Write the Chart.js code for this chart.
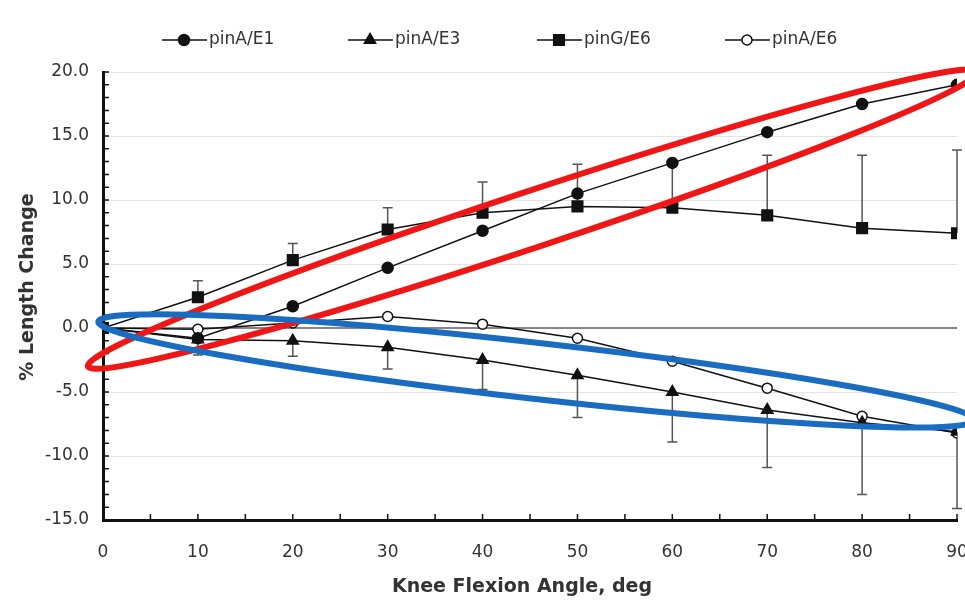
<!DOCTYPE html>
<html>
<head>
<meta charset="utf-8">
<script src="https://cdn.jsdelivr.net/npm/chart.js@4.4.0/dist/chart.umd.min.js"></script>
<style>
  html, body { margin: 0; padding: 0; background: #fff; overflow: hidden; }
  #wrap { width: 965px; height: 600px; overflow: hidden; }
</style>
</head>
<body>
<div id="wrap"><canvas id="chart" width="990" height="600"></canvas></div>
<script>
// knee flexion angle (deg)
const angles = [0, 10, 20, 30, 40, 50, 60, 70, 80, 90];

// % length change per graft position
const pinA_E1 = [0, -0.8, 1.7, 4.7, 7.6, 10.5, 12.9, 15.3, 17.5, 19.0];
const pinA_E3 = [0, -0.9, -1.0, -1.5, -2.5, -3.7, -5.0, -6.4, -7.4, -8.1];
const pinG_E6 = [0, 2.4, 5.3, 7.7, 9.0, 9.5, 9.4, 8.8, 7.8, 7.4];
const pinA_E6 = [0, -0.1, 0.4, 0.9, 0.3, -0.8, -2.6, -4.7, -6.9, -8.2];

// standard deviations (one-sided bars)
const pinG_E6_sd = [0, 1.3, 1.3, 1.7, 2.4, 3.3, 3.4, 4.7, 5.7, 6.5];
const pinA_E3_sd = [0, 1.2, 1.2, 1.7, 2.3, 3.3, 3.9, 4.5, 5.6, 6.0];

const xTicks = [0, 10, 20, 30, 40, 50, 60, 70, 80, 90];
const yTicks = [-15, -10, -5, 0, 5, 10, 15, 20];

// hand-drawn highlight rings, ends given in data units
const rings = [
    { from: [-1.6, -3.0], to: [92.1, 20.0], color: '#f01616' },
    { from: [-0.5, 0.5], to: [91.8, -7.2], color: '#1a6cc0' }
];

const FONT = '"DejaVu Sans", Arial, sans-serif';

function pts(vals) {
    return angles.map((a, i) => ({ x: a, y: vals[i] }));
}

function serie(label, vals, style, radius, fill) {
    return {
        label,
        data: pts(vals),
        borderColor: '#111',
        borderWidth: 1.5,
        pointStyle: style,
        pointRadius: radius,
        pointBackgroundColor: fill,
        pointBorderColor: '#111',
        pointBorderWidth: 1.5,
        tension: 0
    };
}

const errorBars = {
    id: 'errorBars',
    beforeDatasetsDraw(chart) {
        const { ctx, scales: { x, y } } = chart;
        const bars = [[pinG_E6, pinG_E6_sd, 1], [pinA_E3, pinA_E3_sd, -1]];
        ctx.save();
        ctx.strokeStyle = '#555';
        ctx.lineWidth = 1.5;
        bars.forEach(([vals, sd, dir]) => {
            angles.forEach((a, i) => {
                if (!sd[i]) return;
                const px = x.getPixelForValue(a);
                const p0 = y.getPixelForValue(vals[i]);
                const p1 = y.getPixelForValue(vals[i] + dir * sd[i]);
                ctx.beginPath();
                ctx.moveTo(px, p0);
                ctx.lineTo(px, p1);
                ctx.moveTo(px - 5, p1);
                ctx.lineTo(px + 5, p1);
                ctx.stroke();
            });
        });
        ctx.restore();
    }
};

const inTicks = {
    id: 'inTicks',
    afterDraw(chart) {
        const { ctx, scales: { x, y }, chartArea } = chart;
        ctx.save();
        ctx.strokeStyle = '#111';
        ctx.lineWidth = 1.5;
        ctx.beginPath();
        for (let v = -15; v <= 20; v++) {
            const py = y.getPixelForValue(v);
            ctx.moveTo(chartArea.left, py);
            ctx.lineTo(chartArea.left + 6, py);
        }
        for (let v = 0; v <= 90; v += 5) {
            const px = x.getPixelForValue(v);
            ctx.moveTo(px, chartArea.bottom);
            ctx.lineTo(px, chartArea.bottom - 6);
        }
        ctx.stroke();
        ctx.restore();
    }
};

function marker(ctx, ds, cx, cy) {
    const r = ds.pointRadius;
    ctx.fillStyle = ds.pointBackgroundColor;
    ctx.strokeStyle = '#111';
    ctx.lineWidth = 1.5;
    ctx.beginPath();
    if (ds.pointStyle === 'rect') {
        const s = r * Math.SQRT1_2;
        ctx.rect(cx - s, cy - s, 2 * s, 2 * s);
    } else if (ds.pointStyle === 'triangle') {
        ctx.moveTo(cx, cy - r);
        ctx.lineTo(cx + r * 0.87, cy + r * 0.5);
        ctx.lineTo(cx - r * 0.87, cy + r * 0.5);
        ctx.closePath();
    } else {
        ctx.arc(cx, cy, r, 0, Math.PI * 2);
    }
    ctx.fill();
    ctx.stroke();
}

const lineLegend = {
    id: 'lineLegend',
    afterDraw(chart) {
        const ctx = chart.ctx;
        const starts = [162, 348, 537, 725];
        const yy = 40;
        ctx.save();
        chart.data.datasets.forEach((ds, i) => {
            const x0 = starts[i];
            ctx.strokeStyle = '#111';
            ctx.lineWidth = 1.5;
            ctx.beginPath();
            ctx.moveTo(x0, yy);
            ctx.lineTo(x0 + 45, yy);
            ctx.stroke();
            marker(ctx, ds, x0 + 22, yy);
            ctx.fillStyle = '#333';
            ctx.font = '17px ' + FONT;
            ctx.textAlign = 'left';
            ctx.textBaseline = 'middle';
            ctx.fillText(ds.label, x0 + 47, yy);
        });
        ctx.restore();
    }
};

const axisTitles = {
    id: 'axisTitles',
    afterDraw(chart) {
        const ctx = chart.ctx;
        ctx.save();
        ctx.fillStyle = '#333';
        ctx.font = 'bold 19px ' + FONT;
        ctx.textAlign = 'center';
        ctx.textBaseline = 'middle';
        ctx.fillText('Knee Flexion Angle, deg', 522, 587);
        ctx.translate(28, 287);
        ctx.rotate(-Math.PI / 2);
        ctx.fillText('% Length Change', 0, 0);
        ctx.restore();
    }
};

const highlightRings = {
    id: 'highlightRings',
    afterDraw(chart) {
        const { ctx, scales: { x, y } } = chart;
        ctx.save();
        ctx.lineWidth = 6;
        rings.forEach(r => {
            const x1 = x.getPixelForValue(r.from[0]), y1 = y.getPixelForValue(r.from[1]);
            const x2 = x.getPixelForValue(r.to[0]), y2 = y.getPixelForValue(r.to[1]);
            const cx = (x1 + x2) / 2, cy = (y1 + y2) / 2;
            const a = Math.hypot(x2 - x1, y2 - y1) / 2;
            const rot = Math.atan2(y2 - y1, x2 - x1);
            ctx.strokeStyle = r.color;
            ctx.beginPath();
            ctx.ellipse(cx, cy, a, 28, rot, 0, Math.PI * 2);
            ctx.stroke();
        });
        ctx.restore();
    }
};

new Chart(document.getElementById('chart'), {
    type: 'line',
    data: {
        datasets: [
            serie('pinA/E1', pinA_E1, 'circle', 5.5, '#111'),
            serie('pinA/E3', pinA_E3, 'triangle', 6.5, '#111'),
            serie('pinG/E6', pinG_E6, 'rect', 7.5, '#111'),
            serie('pinA/E6', pinA_E6, 'circle', 5, '#fff')
        ]
    },
    options: {
        responsive: false,
        animation: false,
        devicePixelRatio: 1,
        layout: { padding: { top: 72, right: 33, bottom: 0, left: 0 } },
        plugins: {
            legend: { display: false },
            tooltip: { enabled: false }
        },
        scales: {
            x: {
                type: 'linear',
                min: 0,
                max: 90,
                afterBuildTicks: s => { s.ticks = xTicks.map(v => ({ value: v })); },
                afterFit: s => { s.height = 80; },
                grid: { display: false },
                border: { display: true, color: '#111', width: 3 },
                ticks: { color: '#333', padding: 14, font: { family: FONT, size: 17 } }
            },
            y: {
                min: -15,
                max: 20,
                afterBuildTicks: s => { s.ticks = yTicks.map(v => ({ value: v })); },
                afterFit: s => { s.width = 103; },
                grid: {
                    drawTicks: false,
                    color: c => c.tick && c.tick.value === 0 ? '#858585' : '#e4e4e4',
                    lineWidth: c => c.tick && c.tick.value === 0 ? 2 : 1
                },
                border: { display: true, color: '#111', width: 3 },
                ticks: {
                    color: '#333',
                    padding: 14,
                    font: { family: FONT, size: 17 },
                    callback: v => v.toFixed(1)
                }
            }
        }
    },
    plugins: [errorBars, inTicks, lineLegend, axisTitles, highlightRings]
});
</script>
</body>
</html>
